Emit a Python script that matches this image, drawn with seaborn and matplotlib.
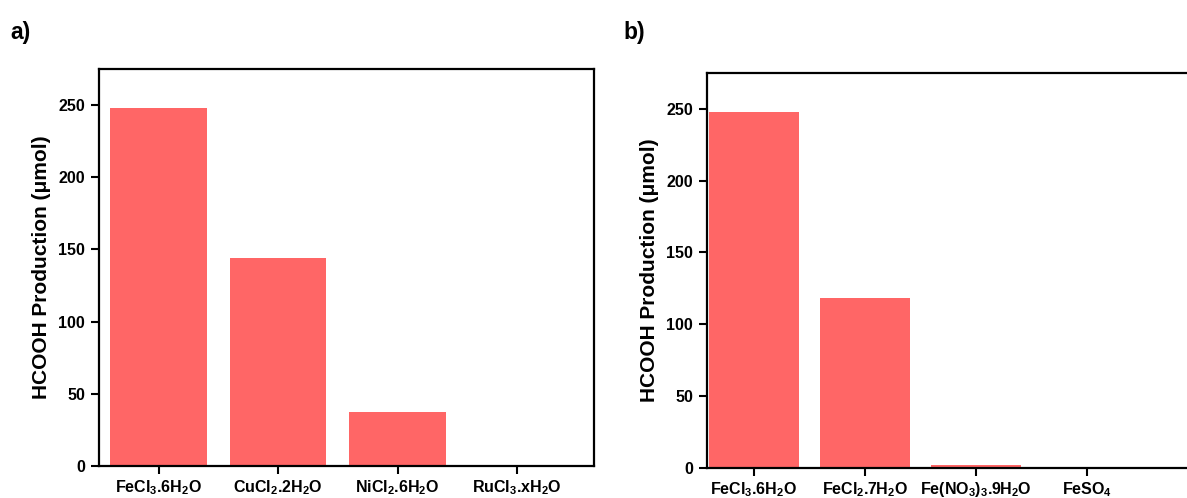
import matplotlib
matplotlib.use("Agg")
import matplotlib.pyplot as plt
import seaborn as sns

cats_a = [r"FeCl$_3$.6H$_2$O", r"CuCl$_2$.2H$_2$O", r"NiCl$_2$.6H$_2$O", r"RuCl$_3$.xH$_2$O"]
vals_a = [248, 144, 37.5, 0]
cats_b = [r"FeCl$_3$.6H$_2$O", r"FeCl$_2$.7H$_2$O", r"Fe(NO$_3$)$_3$.9H$_2$O", r"FeSO$_4$"]
vals_b = [248, 118.5, 2, 0]
yticks = [0, 50, 100, 150, 200, 250]
ylabel = "HCOOH Production (μmol)"

sns.set_theme(style="ticks")
plt.rcParams["font.family"] = ["Liberation Sans", "DejaVu Sans"]
plt.rcParams["font.weight"] = "bold"
plt.rcParams["text.color"] = "black"
plt.rcParams["axes.labelcolor"] = "black"
plt.rcParams["xtick.color"] = "black"
plt.rcParams["ytick.color"] = "black"
plt.rcParams["mathtext.fontset"] = "custom"
plt.rcParams["mathtext.rm"] = "Liberation Sans:bold"
plt.rcParams["mathtext.it"] = "Liberation Sans:bold"
plt.rcParams["mathtext.bf"] = "Liberation Sans:bold"
plt.rcParams["mathtext.default"] = "rm"

color = "#FF6666"
fig = plt.figure(figsize=(11.87, 4.98), dpi=100)
axa = fig.add_axes([99/1187, 32/498, 495/1187, 397/498])
axb = fig.add_axes([707/1187, 30.3/498, 485/1187, 394.7/498])

for ax, cats, vals, xl in [(axa, cats_a, vals_a, (-0.5, 3.645)), (axb, cats_b, vals_b, (-0.42, 3.95))]:
    sns.barplot(x=cats, y=vals, color=color, saturation=1, width=0.81, ax=ax, edgecolor="none")
    ax.set_xlim(*xl)
    ax.set_ylim(0, 275)
    ax.set_yticks(yticks)
    ax.set_yticklabels([str(t) for t in yticks])
    ax.tick_params(axis="both", direction="out", length=6, width=1.5, labelsize=11.5, pad=4)
    ax.tick_params(axis="x", pad=3)
    for lab in ax.get_xticklabels() + ax.get_yticklabels():
        lab.set_fontweight("bold")
    for s in ax.spines.values():
        s.set_linewidth(1.6)
        s.set_color("black")
    ax.set_ylabel(ylabel, fontsize=15, fontweight="bold", labelpad=5)
    ax.set_xlabel("")

fig.text(10/1187, 1 - 32/498, "a)", fontsize=16.5, fontweight="bold", va="center", ha="left")
fig.text(623/1187, 1 - 32/498, "b)", fontsize=16.5, fontweight="bold", va="center", ha="left")

fig.savefig("out.png", dpi=100)
